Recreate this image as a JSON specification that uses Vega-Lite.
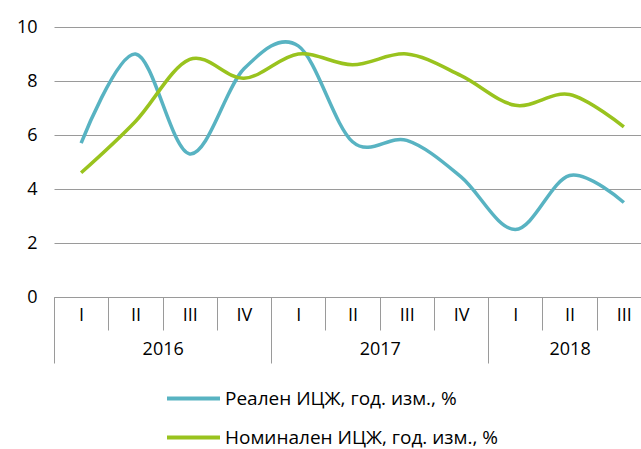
{
  "$schema": "https://vega.github.io/schema/vega-lite/v6.json",
  "width": 597,
  "height": 270,
  "autosize": {"type": "none"},
  "padding": {"left": 54, "top": 27, "right": 0, "bottom": 152},
  "background": "white",
  "config": {
    "view": {"stroke": null},
    "font": "Open Sans",
    "axis": {"labelFont": "Open Sans", "labelFontSize": 18, "labelColor": "#000000"},
    "legend": {"labelFont": "Open Sans", "labelFontSize": 19, "labelColor": "#000000"}
  },
  "data": {
    "values": [
      {"q": "2016-I", "s": "Реален ИЦЖ, год. изм., %", "v": 5.7},
      {"q": "2016-II", "s": "Реален ИЦЖ, год. изм., %", "v": 9.0},
      {"q": "2016-III", "s": "Реален ИЦЖ, год. изм., %", "v": 5.3},
      {"q": "2016-IV", "s": "Реален ИЦЖ, год. изм., %", "v": 8.45},
      {"q": "2017-I", "s": "Реален ИЦЖ, год. изм., %", "v": 9.3},
      {"q": "2017-II", "s": "Реален ИЦЖ, год. изм., %", "v": 5.75},
      {"q": "2017-III", "s": "Реален ИЦЖ, год. изм., %", "v": 5.8},
      {"q": "2017-IV", "s": "Реален ИЦЖ, год. изм., %", "v": 4.45},
      {"q": "2018-I", "s": "Реален ИЦЖ, год. изм., %", "v": 2.5},
      {"q": "2018-II", "s": "Реален ИЦЖ, год. изм., %", "v": 4.5},
      {"q": "2018-III", "s": "Реален ИЦЖ, год. изм., %", "v": 3.5},
      {"q": "2016-I", "s": "Номинален ИЦЖ, год. изм., %", "v": 4.6},
      {"q": "2016-II", "s": "Номинален ИЦЖ, год. изм., %", "v": 6.5},
      {"q": "2016-III", "s": "Номинален ИЦЖ, год. изм., %", "v": 8.8},
      {"q": "2016-IV", "s": "Номинален ИЦЖ, год. изм., %", "v": 8.1},
      {"q": "2017-I", "s": "Номинален ИЦЖ, год. изм., %", "v": 9.0},
      {"q": "2017-II", "s": "Номинален ИЦЖ, год. изм., %", "v": 8.6},
      {"q": "2017-III", "s": "Номинален ИЦЖ, год. изм., %", "v": 9.0},
      {"q": "2017-IV", "s": "Номинален ИЦЖ, год. изм., %", "v": 8.2},
      {"q": "2018-I", "s": "Номинален ИЦЖ, год. изм., %", "v": 7.1},
      {"q": "2018-II", "s": "Номинален ИЦЖ, год. изм., %", "v": 7.5},
      {"q": "2018-III", "s": "Номинален ИЦЖ, год. изм., %", "v": 6.3}
    ]
  },
  "resolve": {"axis": {"x": "independent"}},
  "layer": [
    {
      "mark": {"type": "line", "interpolate": "cardinal", "strokeWidth": 3.5},
      "encoding": {
        "x": {
          "field": "q", "type": "nominal", "sort": null,
          "axis": {
            "orient": "bottom", "title": null, "labelAngle": 0,
            "labelExpr": "split(datum.value, '-')[1]",
            "domainColor": "#9a9a9a", "tickColor": "#9a9a9a",
            "tickBand": "extent", "tickSize": 33, "labelPadding": -24
          }
        },
        "y": {
          "field": "v", "type": "quantitative",
          "scale": {"domain": [0, 10]},
          "axis": {
            "title": null, "values": [0, 2, 4, 6, 8, 10], "domain": false, "ticks": false,
            "labelPadding": 17, "gridColor": "#9a9a9a", "gridOpacity": 1
          }
        },
        "color": {
          "field": "s", "type": "nominal",
          "scale": {"domain": ["Реален ИЦЖ, год. изм., %", "Номинален ИЦЖ, год. изм., %"], "range": ["#58b3c2", "#99c31e"]},
          "legend": {
            "title": null, "orient": "none", "direction": "vertical",
            "legendX": 111, "legendY": 343,
            "symbolType": "stroke", "symbolSize": 2809, "symbolStrokeWidth": 4,
            "rowPadding": -14, "labelOffset": 3, "labelLimit": 0
          }
        }
      }
    },
    {
      "mark": {"type": "line", "opacity": 0},
      "encoding": {
        "x": {
          "field": "q", "type": "nominal", "sort": null,
          "axis": {
            "orient": "bottom", "title": null, "labelAngle": 0, "domain": false,
            "values": ["2016-I", "2016-III", "2016-IV", "2017-III", "2017-IV", "2018-II"],
            "labelExpr": "datum.value == '2016-III' ? '2016' : datum.value == '2017-III' ? '2017' : datum.value == '2018-II' ? '2018' : ''",
            "tickBand": "extent", "tickSize": 66, "tickColor": "#9a9a9a",
            "tickOpacity": {"condition": {"test": "datum.extra || datum.value == '2016-IV' || datum.value == '2017-IV'", "value": 1}, "value": 0},
            "labelOffset": {"condition": {"test": "datum.value == '2018-II'", "value": 0}, "value": -27},
            "labelPadding": -23
          }
        },
        "y": {"field": "v", "type": "quantitative"},
        "detail": {"field": "s"}
      }
    }
  ]
}
